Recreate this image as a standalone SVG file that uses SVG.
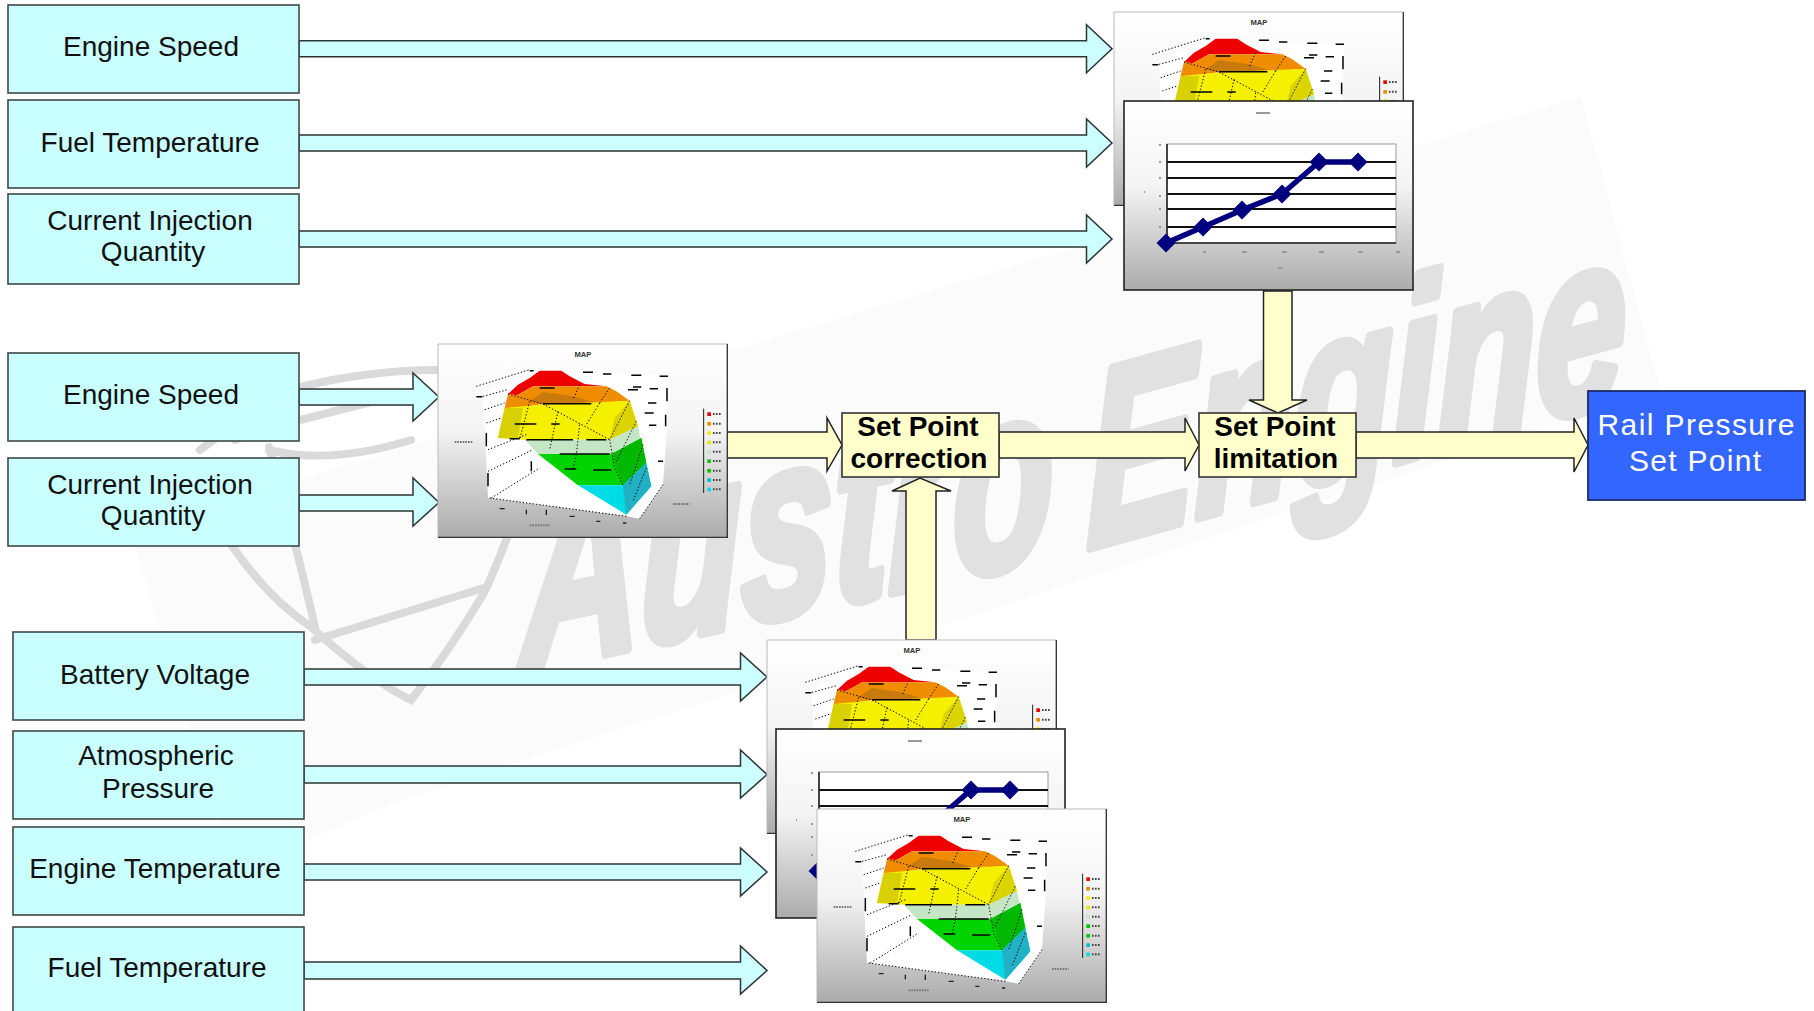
<svg xmlns="http://www.w3.org/2000/svg" xmlns:xlink="http://www.w3.org/1999/xlink" width="1814" height="1011" viewBox="0 0 1814 1011">
<style>
.inp{fill:#c9ffff;stroke:#404848;stroke-width:1.6}
.lbl{font-family:"Liberation Sans",Arial,sans-serif;font-size:28px;fill:#111;text-anchor:middle}
.sp{fill:#ffffcc;stroke:#333;stroke-width:1.6}
.spl{font-family:"Liberation Sans",Arial,sans-serif;font-size:28px;font-weight:700;fill:#000;text-anchor:middle}
.ca{fill:#ccffff;stroke:#2c3434;stroke-width:1.5}
.ya{fill:#ffffcc;stroke:#222;stroke-width:1.5}
.wm{font-family:"Liberation Sans",Arial,sans-serif;font-weight:700;font-style:italic;fill:#e1e1e1;stroke:#e1e1e1;stroke-width:11;stroke-linejoin:round}
.logo{fill:none;stroke:#dadada;stroke-width:8;stroke-linecap:round}
.dash{fill:none;stroke:#000;stroke-width:4.5}
.dot{fill:none;stroke:#000;stroke-width:3;stroke-dasharray:4 6}
.title{font-family:"Liberation Sans",Arial,sans-serif;font-size:23px;font-weight:700;fill:#333;text-anchor:middle}
</style>
<defs>
<linearGradient id="cg" x1="0" y1="0" x2="0" y2="1"><stop offset="0" stop-color="#fff"/><stop offset=".45" stop-color="#f4f4f4"/><stop offset="1" stop-color="#ababab"/></linearGradient>
<filter id="soft" x="-2%" y="-2%" width="104%" height="104%"><feGaussianBlur stdDeviation="0.8"/></filter>
<g id="map3d">
<rect x="25" y="28" width="868" height="580" fill="url(#cg)"/>
<g filter="url(#soft)">
<path d="M175 490L160 175L300 105L715 125L712 280L700 450L630 552L590 545Z" fill="#fff"/>
<path d="M235 178L265 150L300 130L330 108H395L420 125L465 148L530 155H310L262 182Z" fill="#ee0000"/>
<path d="M225 220L235 178L262 182L310 155H530L560 170L600 198L510 205L340 208L300 215L280 220Z" fill="#f08c00"/>
<path d="M300 200L340 172L430 185L500 205L340 210Z" fill="#c87a08"/>
<path d="M205 310L225 220L330 210L600 198L625 275L540 315H285Z" fill="#f4f000"/>
<path d="M205 310L225 220H280L265 312Z" fill="#d8d000"/>
<path d="M540 315L555 250L600 198L625 275Z" fill="#dcd400"/>
<path d="M285 315H540L625 275L632 310L545 358H325Z" fill="#c4e6c4"/>
<path d="M325 358H545L635 310L650 385L580 452H445Z" fill="#00d400"/>
<path d="M545 358L635 310L650 385L580 452Z" fill="#00b800"/>
<path d="M445 452H580L650 385L665 455L590 540Z" fill="#00dce6"/>
<path d="M580 452L650 385L665 455L590 540Z" fill="#22b0c4"/>
<path class="dash" d="M255 268H320M365 268H390M340 207H485M240 312H270M290 315H430M470 315H530M390 358H540M405 403H440M490 406H545M330 160H375M595 165H625M610 157H635M660 162H685M655 205H680M645 235H672M658 272H680M685 380H700M460 113H490M520 118H545M605 122H635M690 125H715M140 186H158"/>
<path class="dash" d="M170 295V335M175 415V455M712 160V200M708 240V275M305 380V410M300 108H312"/>
<path class="dot" d="M300 200L270 315M385 230L360 345M450 270L440 360L430 405M510 205L470 270M600 198L540 315L555 400L580 452M235 178L340 208L540 315M620 260L560 380M640 330L600 450M650 400L610 500M450 150L430 195M540 160L510 205M180 490L590 545M140 155L300 105M160 185L235 165M165 225L225 205M170 265L215 250M175 345L290 300M175 410L310 345M185 490L330 400M630 552L700 450"/>
<rect x="833" y="233" width="11" height="11" fill="#ee0000"/><rect x="833" y="262" width="11" height="11" fill="#f08c00"/><rect x="833" y="290" width="11" height="11" fill="#f4f000"/><rect x="833" y="318" width="11" height="11" fill="#e8e800"/><rect x="833" y="346" width="11" height="11" fill="#c4e6c4"/><rect x="833" y="374" width="11" height="11" fill="#00c800"/><rect x="833" y="403" width="11" height="11" fill="#00c800"/><rect x="833" y="431" width="11" height="11" fill="#00c0c8"/><rect x="833" y="459" width="11" height="11" fill="#00dce6"/>
<path d="M850 238h26M850 267h26M850 295h26M850 323h26M850 351h26M850 379h26M850 408h26M850 436h26M850 464h26" stroke="#444" stroke-width="6" stroke-dasharray="5 4" fill="none"/>
<path d="M822 222V475" stroke="#222" stroke-width="3"/>
<path d="M580 565h10M290 525v14M350 525v16M420 545h15M500 560h12M210 522h15" stroke="#222" stroke-width="4"/>
<path d="M300 572h60M730 508h50M75 322h55" stroke="#777" stroke-width="6" stroke-dasharray="5 3"/>
</g>
<text class="title" x="460" y="67">MAP</text>
<path d="M25 608V28H893" fill="none" stroke="#bbb" stroke-width="3"/>
<path d="M893 28V608H25" fill="none" stroke="#333" stroke-width="4"/>
</g>
<g id="lineChart">
<rect x="1124" y="101" width="289" height="189" fill="url(#cg)" stroke="#222" stroke-width="1.6"/>
<rect x="1167" y="144" width="229" height="99" fill="#fff" stroke="#999" stroke-width="1"/>
<path d="M1167 162H1396M1167 178H1396M1167 194H1396M1167 209H1396M1167 227H1396" stroke="#111" stroke-width="1.8"/>
<path d="M1167 144V243H1396" stroke="#222" stroke-width="1.6" fill="none"/>
<path d="M1166 243L1203 227L1242 210L1282 194L1319 162H1358" fill="none" stroke="#00007e" stroke-width="5.4"/>
<path d="M1166 233.500l9.500 9.500l-9.500 9.500l-9.500-9.500zM1203 217.500l9.500 9.500l-9.500 9.500l-9.500-9.500zM1242 200.500l9.500 9.500l-9.500 9.500l-9.500-9.500zM1282 184.500l9.500 9.500l-9.500 9.500l-9.500-9.500zM1319 152.500l9.500 9.500l-9.500 9.500l-9.500-9.500zM1358 152.500l9.500 9.500l-9.500 9.500l-9.500-9.500z" fill="#00007e"/>
<path d="M1203 252h3M1242 252h5M1282 252h5M1319 252h5M1358 252h5M1396 252h4M1278 268h4M1256 113h14M1144 192h1M1159 145h2M1159 162h2M1159 178h2M1159 196h2M1159 209h2M1159 227h2" stroke="#999" stroke-width="2"/>
</g>
</defs>
<rect width="1814" height="1011" fill="#fff"/>
<g id="watermark">
<path d="M130 530L1581 97L1660 390L1050 590L400 800L235 870Z" fill="#fbfbfb"/>
<g class="logo">
<path d="M200 450Q260 405 300 387Q370 370 438 370"/>
<path d="M235 440Q270 425 300 420Q360 405 411 392"/>
<path d="M269 450Q330 465 411 440"/>
<path d="M210 470Q225 540 235 550Q270 600 311 627Q370 680 411 700Q450 650 484 593Q495 570 510 530"/>
<path d="M269 447Q295 540 315 627"/>
<path d="M315 640L487 587"/>
</g>
<text class="wm" font-size="262" transform="matrix(0.631 -0.134 0 1 521 671)">Austro</text>
<text class="wm" font-size="250" transform="matrix(0.647 -0.18 0 1 1087 548)">Engine</text>
</g>
<g id="connectors">
<path class="ca" d="M299 40.7H1086.5V24.7L1112 48.7L1086.5 72.7V56.7H299Z"/>
<path class="ca" d="M299 135H1086.5V119L1112 143L1086.5 167V151H299Z"/>
<path class="ca" d="M299 231H1086.5V215L1112 239L1086.5 263V247H299Z"/>
<path class="ca" d="M299 389H413V373L439 397L413 421V405H299Z"/>
<path class="ca" d="M299 495H413V478L439 502.5L413 526V511H299Z"/>
<path class="ca" d="M304 669H740.5V653L767 677L740.5 701V685H304Z"/>
<path class="ca" d="M304 766H740.5V750L767 774.5L740.5 798V783H304Z"/>
<path class="ca" d="M304 864H740.5V848L767 872L740.5 896V880H304Z"/>
<path class="ca" d="M304 962H740.5V946L767 970.5L740.5 994V979H304Z"/>
<path class="ya" d="M727 432H827V418L842 445L827 471V458H727Z"/>
<path class="ya" d="M999 432H1185V418L1199 445L1185 471V458H999Z"/>
<path class="ya" d="M1356 432H1574V418L1588 445L1574 472V458H1356Z"/>
<path class="ya" d="M1263.500 291H1292V400H1307L1278 413L1249 400H1263.500Z"/>
<path class="ya" d="M906 640V491H892L920 478L951 491H936V640Z"/>
</g>
<g id="map-top"><use href="#map3d" transform="translate(1114 12) scale(.3333) translate(-25 -28)"/></g>
<g id="curve-top"><use href="#lineChart"/></g>
<g id="map-mid"><use href="#map3d" transform="translate(438 344) scale(.3333) translate(-25 -28)"/></g>
<g id="map-low1"><use href="#map3d" transform="translate(767 640) scale(.3333) translate(-25 -28)"/></g>
<g id="curve-low"><use href="#lineChart" transform="translate(-348 628)"/></g>
<g id="map-low2"><use href="#map3d" transform="translate(817 809) scale(.3333) translate(-25 -28)"/></g>
<g id="n1"><rect class="inp" x="8" y="5" width="291" height="88"/><text class="lbl" x="151" y="56">Engine Speed</text></g>
<g id="n2"><rect class="inp" x="8" y="100" width="291" height="88"/><text class="lbl" x="150" y="152">Fuel Temperature</text></g>
<g id="n3"><rect class="inp" x="8" y="194" width="291" height="90"/><text class="lbl" x="150" y="230">Current Injection</text><text class="lbl" x="153" y="261">Quantity</text></g>
<g id="n4"><rect class="inp" x="8" y="353" width="291" height="88"/><text class="lbl" x="151" y="404">Engine Speed</text></g>
<g id="n5"><rect class="inp" x="8" y="458" width="291" height="88"/><text class="lbl" x="150" y="494">Current Injection</text><text class="lbl" x="153" y="525">Quantity</text></g>
<g id="n6"><rect class="inp" x="13" y="632" width="291" height="88"/><text class="lbl" x="155" y="684">Battery Voltage</text></g>
<g id="n7"><rect class="inp" x="13" y="731" width="291" height="88"/><text class="lbl" x="156" y="765">Atmospheric</text><text class="lbl" x="158" y="798">Pressure</text></g>
<g id="n8"><rect class="inp" x="13" y="827" width="291" height="88"/><text class="lbl" x="155" y="878">Engine Temperature</text></g>
<g id="n9"><rect class="inp" x="13" y="927" width="291" height="90"/><text class="lbl" x="157" y="977">Fuel Temperature</text></g>
<g id="sp1"><rect class="sp" x="842" y="413" width="157" height="64"/><text class="spl" x="918" y="436">Set Point</text><text class="spl" x="919" y="468">correction</text></g>
<g id="sp2"><rect class="sp" x="1199" y="413" width="157" height="64"/><text class="spl" x="1275" y="436">Set Point</text><text class="spl" x="1276" y="468">limitation</text></g>
<g id="out"><rect x="1588" y="391" width="217" height="109" fill="#3366ff" stroke="#1c2a66" stroke-width="1.8"/><text class="lbl" x="1696" y="435" style="fill:#fff;font-size:30px" textLength="197">Rail Pressure</text><text class="lbl" x="1695" y="471" style="fill:#fff;font-size:30px" textLength="132">Set Point</text></g>
</svg>
